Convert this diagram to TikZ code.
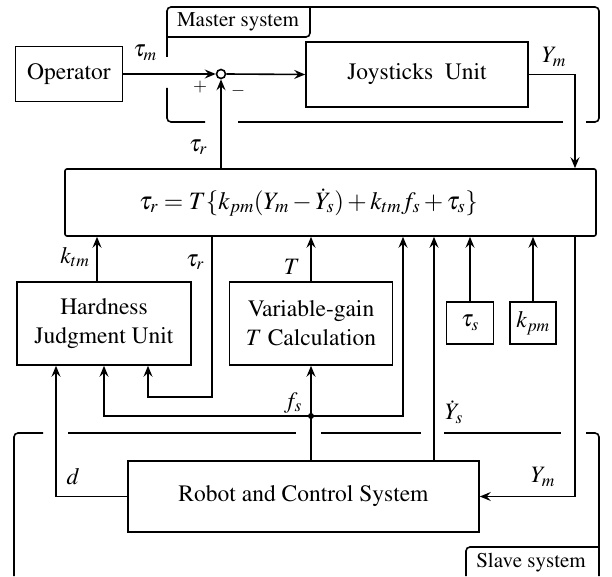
\documentclass[tikz,border=0pt]{standalone}
\usepackage[T1]{fontenc}
\usepackage{mathptmx}
\usetikzlibrary{arrows.meta}
\tikzset{
  blk/.style = {draw, align=center, inner sep=0pt,
    font=\fontsize{23.5}{29}\selectfont},% bloc du schema
  lbl/.style = {inner sep=0pt, font=\fontsize{23.5}{28}\selectfont},% signal
  tab/.style = {inner sep=0pt, font=\fontsize{21}{24}\selectfont},% nom du sous-systeme
  frame/.style = {rounded corners=4pt},% cadre ouvert
  sumnode/.style = {circle, draw, fill=white, minimum size=9pt, inner sep=0pt}
}
\begin{document}
\begin{tikzpicture}[x=1pt, y=-1pt, line width=1.6pt,
  >={Stealth[length=11pt, width=9pt, inset=4pt]}]
\useasboundingbox (0,0) rectangle (612,577);

% blocs
\node [blk, minimum width=107pt, minimum height=55pt] (op) at (69,74) {Operator};
\node [sumnode] (sum) at (221,74) {};
\node [blk, minimum width=222pt, minimum height=65pt] (joy) at (417,74.5) {Joysticks\ \ Unit};
\node [blk, rounded corners=2pt, minimum width=531pt, minimum height=67pt,
  font=\fontsize{25}{30}\selectfont] (ctrl) at (330.5,202.5)
  {$\tau_r = T\{k_{pm}(Y_m - \dot{Y}_s) + k_{tm} f_s + \tau_s\}$\hspace*{44pt}};
\node [blk, minimum width=174pt, minimum height=83pt] (hard) at (104,323.5) {Hardness\\Judgment Unit};
\node [blk, minimum width=163pt, minimum height=83pt] (gain) at (311,323.5) {Variable-gain\\$T$ Calculation};
\node [blk, minimum width=47pt, minimum height=42pt] (taus) at (470,323) {$\tau_s$};
\node [blk, minimum width=46pt, minimum height=42pt] (kpm) at (533,323) {$k_{pm}$};
\node [blk, minimum width=351pt, minimum height=71pt] (robot) at (303.5,496.5) {Robot and Control System};

% rails
\coordinate (ymrail) at (575,300);
\coordinate (trail) at (212,397);
\coordinate (fsj) at (311,416);
\coordinate (fsr) at (403,416);
\coordinate (ydot) at (434,300);

% liaisons
\draw[->] (op.east) -- (sum.west);
\draw[->] (sum.east) -- (joy.west);
\draw[->] (ctrl.north -| sum) -- (sum.south);
\draw[->] (joy.east) -| (ctrl.north -| ymrail);
\draw[->] (ctrl.south -| ymrail) |- (robot.east);
\draw[->] ([xshift=-7pt]hard.north) -- ([xshift=-7pt]hard.north |- ctrl.south);
\draw[->] (ctrl.south -| trail) |- ([xshift=44pt]hard.south |- trail) -- ([xshift=44pt]hard.south);
\draw[->] (gain.north) -- (gain.north |- ctrl.south);
\draw[->] (robot.north -| fsj) -- (gain.south);
\draw[->] (fsj) -| (hard.south);
\draw[->] (fsj) -| (fsr |- ctrl.south);
\fill (fsj) circle (3pt);
\draw[->] (robot.north -| ydot) -- (ctrl.south -| ydot);
\draw[->] (taus.north) -- (taus.north |- ctrl.south);
\draw[->] (kpm.north) -- (kpm.north |- ctrl.south);
\draw[->] (robot.west) -| ([xshift=-48pt]hard.south);

% signaux
\node [lbl] (taum) at (145,53) {$\tau_m$};
\node [lbl] (ymtop) at (554,57) {$Y_m$};
\node [lbl] (taur) at (198,147) {$\tau_r$};
\node [lbl] (ktm) at (75,257) {$k_{tm}$};
\node [lbl] (taur2) at (195,262) {$\tau_r$};
\node [lbl] (tgain) at (292,267) {$T$};
\node [lbl] (fs) at (293,403) {$f_s$};
\node [lbl] (yds) at (454,412) {$\dot{Y}_s$};
\node [lbl] (dd) at (73,477) {$d$};
\node [lbl] (ymbot) at (543,477) {$Y_m$};
\node [lbl, font=\fontsize{18}{18}\selectfont] (plus) at (200,87) {$+$};
\node [lbl, font=\fontsize{18}{18}\selectfont] (minus) at (238,91) {$-$};

% master system
\draw[frame] (167,57) -- (167,7) -- (599,7) -- (599,122) -- (586,122);
\draw[frame] (563,122) -- (238,122);
\draw[frame] (205,122) -- (167,122) -- (167,88);
\draw[frame] (167,37) -- (310,37) -- (310,7);
\node [tab] (mst) at (238,22) {Master system};

% slave system
\draw[frame] (43,433) -- (14,433) -- (14,576);
\draw[frame] (68,433) -- (296,433);
\draw[frame] (321,433) -- (421,433);
\draw[frame] (444,433) -- (561,433);
\draw[frame] (586,433) -- (599,433) -- (599,576);
\draw[frame] (599,547) -- (466,547) -- (466,576);
\node [tab] (slv) at (531,563) {Slave system};
\end{tikzpicture}
\end{document}
